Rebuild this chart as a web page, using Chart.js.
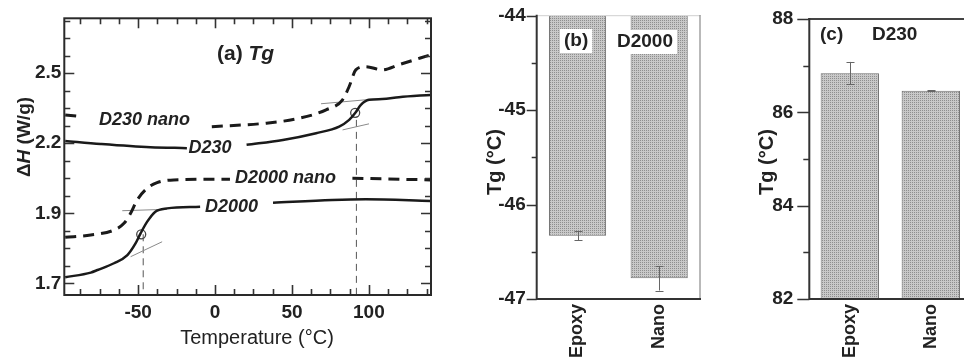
<!DOCTYPE html>
<html>
<head>
<meta charset="utf-8">
<script src="https://cdn.jsdelivr.net/npm/chart.js@4.4.1/dist/chart.umd.min.js"></script>
<style>
  html, body { margin: 0; padding: 0; background: #fff; overflow: hidden; width: 964px; height: 362px; }
  canvas { position: absolute; top: 0; }
  #tgA { left: 0; }
  #tgB { left: 470px; }
  #tgC { left: 720px; }
</style>
</head>
<body>
<canvas id="tgA" width="460" height="362"></canvas>
<canvas id="tgB" width="250" height="362"></canvas>
<canvas id="tgC" width="300" height="362"></canvas>
<script>
// (a) DSC curves; null marks the break where the curve name sits
const d2000Temp = [-97.4, -80.8, -76.4, -65.7, -57.0, -51.7, -48.4, -44.1, -38.8, -31.2, -9.7, 10, 37.7, 76.2, 98.0, 140.2];
const d2000Flow = [1.626, 1.646, 1.657, 1.686, 1.721, 1.771, 1.814, 1.864, 1.907, 1.921, 1.928, null, 1.945, 1.957, 1.960, 1.953];
const d2000NanoTemp = [-97.4, -80.8, -65.7, -59.2, -54.9, -50.6, -44.1, -37.7, -26.9, 9.7, 50, 89.3, 140.2];
const d2000NanoFlow = [1.797, 1.807, 1.828, 1.857, 1.900, 1.957, 2.007, 2.031, 2.043, 2.046, null, 2.050, 2.043];
const d230Temp = [-97.4, -74.3, -42.0, -18.3, 0, 20.5, 44.1, 65.7, 80.7, 87.2, 91.1, 94.8, 100.1, 108.7, 119.5, 140.2];
const d230Flow = [2.210, 2.197, 2.183, 2.179, null, 2.193, 2.214, 2.243, 2.271, 2.300, 2.329, 2.364, 2.386, 2.389, 2.397, 2.407];
const d230NanoTemp = [-97.4, -85.9, -40, -2.1, 33.4, 54.9, 72.2, 82.9, 87.2, 91.5, 98.0, 108.7, 119.5, 140.2];
const d230NanoFlow = [2.321, 2.314, null, 2.271, 2.286, 2.307, 2.343, 2.386, 2.443, 2.514, 2.528, 2.514, 2.536, 2.579];

// tangent construction lines and Tg markers
const tangentTemp = [[-60.3, -31.2], [-54.9, -34.4], [68.9, 98.0], [82.9, 100.1]];
const tangentFlow = [[1.911, 1.917], [1.714, 1.778], [2.369, 2.386], [2.257, 2.283]];
const tgMarkTemp = [-48.0, 91.1];
const tgMarkFlow = [1.81, 2.33];
const dropTemp = [-46.7, 91.9];
const dropFlow = [[1.81, 1.55], [2.30, 1.55]];

const curveNames = ['D230 nano', 'D230', 'D2000 nano', 'D2000'];
const curveNameTemp = [-75.4, -17.2, 12.9, -6.5];
const curveNameFlow = [2.30, 2.179, 2.05, 1.928];

const xMajorA = [-50, 0, 50, 100];
const yTickValsA = [1.6, 1.9, 2.2, 2.5];
const yTickLabelsA = ['1.7', '1.9', '2.2', '2.5'];

// (b) and (c) Tg bars
const barLabels = ['Epoxy', 'Nano'];
const d2000Tg = [-46.33, -46.78];
const d2000TgErr = [0.05, 0.13];
const d230Tg = [86.84, 86.46];
const d230TgErr = [0.24, 0.01];

const FONT = "'Liberation Sans', Arial, sans-serif";
const INK = '#222';

function toPoints(xs, ys) {
  return xs.map((x, i) => ({ x: x, y: ys[i] }));
}

function fixBox(w, h) {
  return (scale) => {
    if (w !== null) scale.width = w;
    if (h !== null) scale.height = h;
    scale.paddingTop = 0; scale.paddingBottom = 0;
    scale.paddingLeft = 0; scale.paddingRight = 0;
  };
}

function rotText(ctx, parts, cx, cy) {
  // parts: [[text, font], ...] drawn bottom-to-top, centred on cx, cy
  ctx.save();
  ctx.translate(cx, cy);
  ctx.rotate(-Math.PI / 2);
  let total = 0;
  parts.forEach(p => { ctx.font = p[1]; total += ctx.measureText(p[0]).width; });
  let x = -total / 2;
  ctx.textBaseline = 'middle';
  ctx.textAlign = 'left';
  ctx.fillStyle = INK;
  parts.forEach(p => { ctx.font = p[1]; ctx.fillText(p[0], x, 0); x += ctx.measureText(p[0]).width; });
  ctx.restore();
}

function barPattern() {
  // small dot screen like the printed bars
  const c = document.createElement('canvas');
  c.width = 2; c.height = 2;
  const g = c.getContext('2d');
  g.fillStyle = '#c8c8c8'; g.fillRect(0, 0, 2, 2);
  g.fillStyle = '#8e8e8e'; g.fillRect(0, 0, 1, 1);
  return g.createPattern(c, 'repeat');
}

// ---------- panel (a) ----------
const boxTicksA = {
  id: 'boxTicksA',
  afterDatasetsDraw(chart) {
    const { ctx, chartArea: a, scales: { x, y } } = chart;
    ctx.save();
    ctx.strokeStyle = '#333';
    ctx.lineWidth = 1.6;
    ctx.beginPath();
    x.ticks.forEach(t => {
      const px = Math.round(x.getPixelForValue(t.value)) + 0.5;
      const len = t.label ? 10 : 6;
      ctx.moveTo(px, a.bottom); ctx.lineTo(px, a.bottom - len);
      ctx.moveTo(px, a.top); ctx.lineTo(px, a.top + len);
    });
    y.ticks.forEach(t => {
      const py = Math.round(y.getPixelForValue(t.value)) + 0.5;
      const len = t.label ? 10 : 6;
      ctx.moveTo(a.left, py); ctx.lineTo(a.left + len, py);
      ctx.moveTo(a.right, py); ctx.lineTo(a.right - len, py);
    });
    ctx.stroke();
    ctx.lineWidth = 2;
    ctx.strokeStyle = '#2a2a2a';
    ctx.strokeRect(a.left, a.top, a.width, a.height);

    // curve names
    ctx.fillStyle = INK;
    ctx.font = 'italic bold 18px ' + FONT;
    ctx.textBaseline = 'middle';
    ctx.textAlign = 'left';
    curveNames.forEach((n, i) => {
      ctx.fillText(n, x.getPixelForValue(curveNameTemp[i]), y.getPixelForValue(curveNameFlow[i]));
    });

    // panel title
    ctx.textBaseline = 'alphabetic';
    ctx.font = 'bold 21px ' + FONT;
    const lead = '(a) ';
    ctx.fillText(lead, 217, 60);
    const w = ctx.measureText(lead).width;
    ctx.font = 'italic bold 21px ' + FONT;
    ctx.fillText('Tg', 217 + w, 60);

    // axis titles
    ctx.font = '20px ' + FONT;
    ctx.textAlign = 'center';
    ctx.fillText('Temperature (\u00B0C)', 257, 344);
    ctx.restore();
    rotText(ctx, [['\u0394', 'bold 19px ' + FONT], ['H', 'italic bold 19px ' + FONT], [' (W/g)', 'bold 19px ' + FONT]], 25, 137);
  }
};

const lineBase = { pointRadius: 0, fill: false, cubicInterpolationMode: 'monotone', spanGaps: false };

const datasetsA = [
  Object.assign({ data: toPoints(d230Temp, d230Flow), borderColor: '#1a1a1a', borderWidth: 2.5 }, lineBase),
  Object.assign({ data: toPoints(d230NanoTemp, d230NanoFlow), borderColor: '#1a1a1a', borderWidth: 3, borderDash: [11, 7] }, lineBase),
  Object.assign({ data: toPoints(d2000Temp, d2000Flow), borderColor: '#1a1a1a', borderWidth: 2.5 }, lineBase),
  Object.assign({ data: toPoints(d2000NanoTemp, d2000NanoFlow), borderColor: '#1a1a1a', borderWidth: 3, borderDash: [11, 7] }, lineBase)
];
tangentTemp.forEach((tx, i) => {
  datasetsA.push({ data: toPoints(tx, tangentFlow[i]), borderColor: '#8a8a8a', borderWidth: 1, pointRadius: 0 });
});
dropTemp.forEach((t, i) => {
  datasetsA.push({ data: toPoints([t, t], dropFlow[i]), borderColor: '#555', borderWidth: 1, borderDash: [7, 5], pointRadius: 0 });
});
datasetsA.push({
  data: toPoints(tgMarkTemp, tgMarkFlow), showLine: false, pointRadius: 4.5,
  pointBackgroundColor: 'rgba(0,0,0,0)', pointBorderColor: '#444', pointBorderWidth: 1.3
});

new Chart(document.getElementById('tgA'), {
  type: 'line',
  data: { datasets: datasetsA },
  options: {
    responsive: false,
    animation: false,
    devicePixelRatio: 1,
    layout: { padding: { top: 18.3, right: 29, left: 0, bottom: 0 } },
    plugins: { legend: { display: false }, tooltip: { enabled: false } },
    scales: {
      x: {
        type: 'linear', min: -98, max: 140.4,
        grid: { display: false, drawTicks: false }, border: { display: false },
        afterBuildTicks: (s) => {
          const t = [];
          for (let v = -87.5; v <= 140; v += 12.5) t.push({ value: v });
          s.ticks = t;
        },
        afterFit: fixBox(null, 67),
        ticks: {
          autoSkip: false, maxRotation: 0, padding: 6, color: INK,
          font: { family: FONT, size: 19, weight: 'bold' },
          callback: (v) => xMajorA.includes(v) ? String(v) : ''
        }
      },
      y: {
        type: 'linear', min: 1.55, max: 2.735,
        grid: { display: false, drawTicks: false }, border: { display: false },
        afterBuildTicks: (s) => {
          const t = [];
          for (let k = 0; k < 16; k++) t.push({ value: Math.round((1.6 + k * 0.075) * 1000) / 1000 });
          s.ticks = t;
        },
        afterFit: fixBox(64.3, null),
        ticks: {
          autoSkip: false, padding: 3, color: INK,
          font: { family: FONT, size: 19, weight: 'bold' },
          callback: (v) => {
            const i = yTickValsA.findIndex(m => Math.abs(m - v) < 1e-6);
            return i >= 0 ? yTickLabelsA[i] : '';
          }
        }
      }
    }
  },
  plugins: [boxTicksA]
});

// ---------- panels (b) and (c) ----------
function barPanel(id, opts) {
  const frame = {
    id: 'frame' + id,
    afterDatasetsDraw(chart) {
      const { ctx, chartArea: a, scales: { x, y } } = chart;
      const meta = chart.getDatasetMeta(0);
      ctx.save();
      // error bars
      ctx.strokeStyle = '#666';
      ctx.lineWidth = 1;
      ctx.beginPath();
      meta.data.forEach((el, i) => {
        const v = opts.values[i], e = opts.errors[i];
        const yt = y.getPixelForValue(v + e), yb = y.getPixelForValue(v - e);
        const cx = Math.round(el.x) + 0.5;
        ctx.moveTo(cx, yt); ctx.lineTo(cx, yb);
        ctx.moveTo(cx - 4, Math.round(yt) + 0.5); ctx.lineTo(cx + 4, Math.round(yt) + 0.5);
        ctx.moveTo(cx - 4, Math.round(yb) + 0.5); ctx.lineTo(cx + 4, Math.round(yb) + 0.5);
      });
      ctx.stroke();

      // frame
      ctx.lineCap = 'square';
      if (opts.topColor) {
        ctx.strokeStyle = opts.topColor; ctx.lineWidth = opts.topWidth;
        ctx.beginPath(); ctx.moveTo(a.left, a.top); ctx.lineTo(opts.topRight || a.right, a.top); ctx.stroke();
      }
      if (opts.rightColor) {
        ctx.strokeStyle = opts.rightColor; ctx.lineWidth = 1.2;
        ctx.beginPath(); ctx.moveTo(a.right, a.top); ctx.lineTo(a.right, a.bottom); ctx.stroke();
      }
      ctx.strokeStyle = '#333'; ctx.lineWidth = 2;
      ctx.beginPath();
      ctx.moveTo(a.left, a.top); ctx.lineTo(a.left, a.bottom); ctx.lineTo(opts.bottomRight || a.right, a.bottom);
      ctx.stroke();

      // outward ticks on the value axis
      ctx.lineWidth = 1.5; ctx.lineCap = 'butt';
      ctx.beginPath();
      y.ticks.forEach(t => {
        const py = Math.round(y.getPixelForValue(t.value)) + 0.5;
        const len = t.label ? opts.major : opts.minor;
        ctx.moveTo(a.left, py); ctx.lineTo(a.left - len, py);
      });
      ctx.stroke();

      // panel tags
      ctx.font = 'bold 19px ' + FONT;
      ctx.textBaseline = 'middle';
      ctx.textAlign = 'left';
      opts.tags.forEach(tag => {
        const w = ctx.measureText(tag.text).width;
        if (opts.tagBox) {
          ctx.fillStyle = '#fff';
          ctx.fillRect(tag.x - 4, tag.y - 12, w + 8, 24);
        }
        ctx.fillStyle = INK;
        ctx.fillText(tag.text, tag.x, tag.y);
      });
      ctx.restore();
      rotText(ctx, [['Tg (\u00B0C)', 'bold 20px ' + FONT]], opts.titleX, 162);
    }
  };

  new Chart(document.getElementById(id), {
    type: 'bar',
    data: {
      labels: barLabels,
      datasets: [{
        data: opts.values,
        base: opts.base,
        backgroundColor: barPattern(),
        borderColor: '#6a6a6a',
        borderWidth: 1,
        categoryPercentage: 1,
        barPercentage: opts.barPct
      }]
    },
    options: {
      responsive: false,
      animation: false,
      devicePixelRatio: 1,
      layout: { padding: { top: opts.top, right: opts.right, left: 0, bottom: 0 } },
      plugins: { legend: { display: false }, tooltip: { enabled: false } },
      scales: {
        x: {
          grid: { display: false, drawTicks: false }, border: { display: false },
          afterFit: fixBox(null, 63),
          ticks: {
            autoSkip: false, minRotation: 90, maxRotation: 90, padding: 5, color: INK,
            font: { family: FONT, size: 18, weight: 'bold' }
          }
        },
        y: {
          min: opts.min, max: opts.max,
          grid: { display: false, drawTicks: false }, border: { display: false },
          afterFit: fixBox(opts.axisW, null),
          ticks: {
            autoSkip: false, stepSize: opts.step, padding: opts.labelGap, color: INK,
            font: { family: FONT, size: 19, weight: 'bold' },
            callback: opts.label
          }
        }
      }
    },
    plugins: [frame]
  });
}

barPanel('tgB', {
  values: d2000Tg, errors: d2000TgErr, base: -44, min: -47, max: -44, step: 0.5,
  label: (v) => Number.isInteger(v) ? String(v) : '',
  top: 15.7, right: 20, axisW: 66.7, barPct: 0.70, labelGap: 11, major: 10, minor: 5,
  topColor: '#cfcfcf', topWidth: 1, rightColor: '#8a8a8a',
  tagBox: true,
  tags: [{ text: '(b)', x: 94, y: 41 }, { text: 'D2000', x: 147, y: 42 }],
  titleX: 25
});

barPanel('tgC', {
  values: d230Tg, errors: d230TgErr, base: 82, min: 82, max: 88, step: 1,
  label: (v) => v % 2 === 0 ? String(v) : '',
  top: 19, right: 48.7, axisW: 89.3, barPct: 0.72, labelGap: 16, major: 12, minor: 6,
  topColor: '#444', topWidth: 2, topRight: 300, bottomRight: 300,
  tagBox: false,
  tags: [{ text: '(c)', x: 100, y: 35 }, { text: 'D230', x: 152, y: 35 }],
  titleX: 47
});
</script>
</body>
</html>
